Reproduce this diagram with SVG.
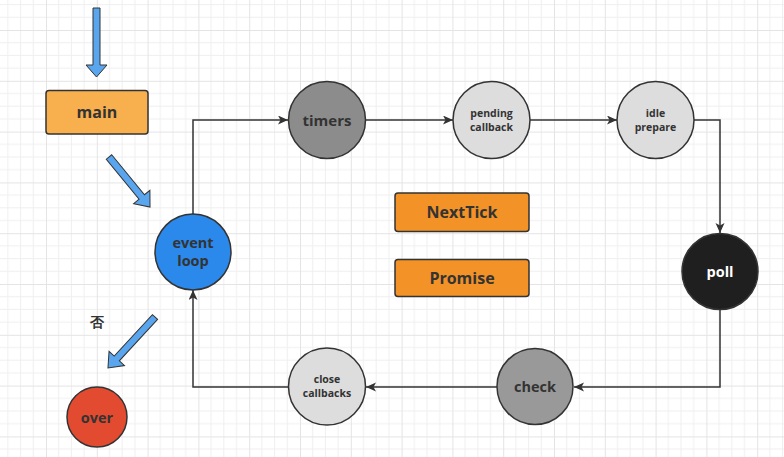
<svg xmlns="http://www.w3.org/2000/svg" width="784" height="457" viewBox="0 0 784 457">
  <defs>
    <pattern id="grid" patternUnits="userSpaceOnUse" x="46" y="30" width="50.8" height="50.8">
      <path d="M12.7,0V50.8M25.4,0V50.8M38.1,0V50.8M0,12.7H50.8M0,25.4H50.8M0,38.1H50.8" stroke="#efefef" stroke-width="1" fill="none"/>
      <path d="M0.5,0V50.8M0,0.5H50.8" stroke="#e4e4e4" stroke-width="1" fill="none"/>
    </pattern>
    <marker id="ah" markerUnits="userSpaceOnUse" markerWidth="12" markerHeight="10" refX="10" refY="4.5" orient="auto">
      <path d="M0,0 L10,4.5 L0,9 L2.5,4.5 Z" fill="#333"/>
    </marker>
  </defs>
  <style>
    .conn { fill: none; stroke: #333; stroke-width: 1.5; }
    .barrow { fill: #5aa6ee; stroke: #333; stroke-width: 1; stroke-linejoin: miter; }
    .node { stroke: #333; stroke-width: 1.5; }
    .t { font-family: "Open Sans", "Noto Sans", "Liberation Sans", sans-serif; font-weight: bold; fill: #333; text-anchor: middle; }
  </style>
  <rect width="784" height="457" fill="#ffffff"/>
  <rect width="784" height="457" fill="url(#grid)"/>

  <g id="connectors">
    <path class="conn" d="M193,214 V120 H288" marker-end="url(#ah)"/>
    <path class="conn" d="M366,120 H453" marker-end="url(#ah)"/>
    <path class="conn" d="M530,120 H617" marker-end="url(#ah)"/>
    <path class="conn" d="M694,120 H720 V233" marker-end="url(#ah)"/>
    <path class="conn" d="M720,310 V387 H574" marker-end="url(#ah)"/>
    <path class="conn" d="M497,387 H366" marker-end="url(#ah)"/>
    <path class="conn" d="M288,387 H193 V290" marker-end="url(#ah)"/>
    <g id="block-arrows">
      <polygon class="barrow" transform="translate(96.5,8) rotate(90)" points="0,-3.5 57,-3.5 57,-10.5 69,0 57,10.5 57,3.5 0,3.5"/>
      <polygon class="barrow" transform="translate(109,157) rotate(50.65)" points="0,-3.5 51.7,-3.5 51.7,-10.5 64.7,0 51.7,10.5 51.7,3.5 0,3.5"/>
      <polygon class="barrow" transform="translate(155,317) rotate(132.67)" points="0,-3.5 56.4,-3.5 56.4,-10.5 69.4,0 56.4,10.5 56.4,3.5 0,3.5"/>
    </g>
  </g>

  <g id="main">
    <rect class="node" x="46" y="90.5" width="102" height="43.5" rx="3" fill="#f8b04e"/>
    <text class="t" x="97" y="118" font-size="16">main</text>
  </g>
  <g id="event-loop">
    <circle class="node" cx="193" cy="252" r="38" fill="#2a89ea"/>
    <text class="t" x="193" y="248" font-size="14.5">event</text>
    <text class="t" x="193" y="266" font-size="14.5">loop</text>
  </g>
  <g id="label-no">
    <text class="t" x="96.5" y="327" font-size="14" font-family="'Noto Sans CJK SC', sans-serif">否</text>
  </g>
  <g id="over">
    <circle class="node" cx="97" cy="417" r="30" fill="#e34b30"/>
    <text class="t" x="97" y="423" font-size="14.5">over</text>
  </g>
  <g id="timers">
    <circle class="node" cx="327" cy="120" r="38.5" fill="#8c8c8c"/>
    <text class="t" x="327" y="126" font-size="15">timers</text>
  </g>
  <g id="pending-callback">
    <circle class="node" cx="491.5" cy="120" r="38.5" fill="#dddddd"/>
    <text class="t" x="491.5" y="117" font-size="10.5">pending</text>
    <text class="t" x="491.5" y="131" font-size="10.5">callback</text>
  </g>
  <g id="idle-prepare">
    <circle class="node" cx="655.5" cy="120" r="38.5" fill="#dddddd"/>
    <text class="t" x="655.5" y="117" font-size="10.5">idle</text>
    <text class="t" x="655.5" y="131" font-size="10.5">prepare</text>
  </g>
  <g id="poll">
    <circle class="node" cx="720" cy="271.5" r="38" fill="#1f1f1f"/>
    <text class="t" x="720" y="277" font-size="14.5" style="fill:#ffffff">poll</text>
  </g>
  <g id="check">
    <circle class="node" cx="535" cy="386.5" r="38" fill="#999999"/>
    <text class="t" x="535" y="392" font-size="14.5">check</text>
  </g>
  <g id="close-callbacks">
    <circle class="node" cx="327" cy="386.5" r="38.5" fill="#dddddd"/>
    <text class="t" x="327" y="383" font-size="10.5">close</text>
    <text class="t" x="327" y="397" font-size="10.5">callbacks</text>
  </g>
  <g id="nexttick">
    <rect class="node" x="395" y="193" width="134" height="38.5" rx="3" fill="#f39226"/>
    <text class="t" x="462" y="218" font-size="16">NextTick</text>
  </g>
  <g id="promise">
    <rect class="node" x="395" y="259.5" width="134" height="37" rx="3" fill="#f39226"/>
    <text class="t" x="462" y="284" font-size="16">Promise</text>
  </g>
</svg>
